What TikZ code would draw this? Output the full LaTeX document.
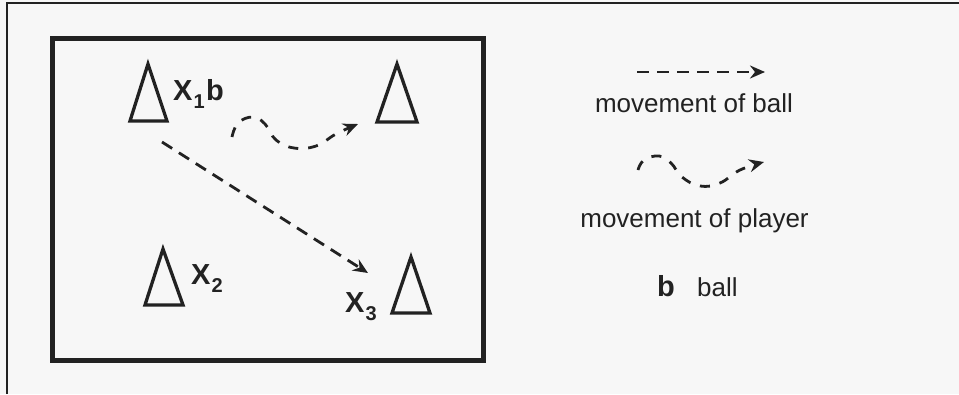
\documentclass[tikz,border=0pt]{standalone}
\usepackage{fontspec}
\setmainfont{Liberation Sans}
\usetikzlibrary{arrows.meta}
\definecolor{ink}{HTML}{222222}
\definecolor{paper}{HTML}{F7F7F7}
\newcommand{\lblsub}[1]{\kern1pt\raisebox{-0.28em}{\fontsize{20}{20}\selectfont #1}}
\begin{document}
\begin{tikzpicture}[x=1pt,y=-1pt,
  cone/.style={draw=ink,line width=3.3pt,line join=miter},
  frameline/.style={draw=ink,line width=2.6pt},
  field/.style={draw=ink,line width=5pt},
  ballpass/.style={draw=ink,line width=2.8pt,dash pattern=on 12pt off 8pt,
     -{Stealth[length=15pt,width=13pt,inset=5pt]}},
  playermove/.style={draw=ink,line width=2.8pt,dash pattern=on 10pt off 10pt,
     -{Stealth[length=15pt,width=13pt,inset=5pt]}},
  lbl/.style={inner sep=0pt,anchor=base west,text=ink,font=\fontsize{29}{33}\selectfont\bfseries},
  legendtxt/.style={inner sep=0pt,anchor=base,text=ink,font=\fontsize{26}{30}\selectfont}
]
\useasboundingbox[fill=paper] (0,0) rectangle (959,394);
% outer frame (top and left edges)
\draw[frameline] (7,394) -- (7,3) -- (959,3);
% field
\draw[field] (52,38) rectangle (483,360);
% cones
\draw[cone] (148,64) -- (130,121) -- (167,121) -- cycle;
\draw[cone] (397,64) -- (377,122) -- (417,122) -- cycle;
\draw[cone] (163,249) -- (145,305) -- (183,305) -- cycle;
\draw[cone] (411,257) -- (392,313) -- (430,313) -- cycle;
% labels
\node[lbl] (x1) at (173,100) {X\lblsub{1}\kern1.5pt b};
\node[lbl] (x2) at (191,284) {X\lblsub{2}};
\node[lbl] (x3) at (345,312) {X\lblsub{3}};
% ball pass
\coordinate (passA) at (162,142);
\coordinate (passB) at (368,273);
\draw[ballpass] (passA) -- (passB);
% player movement
\draw[playermove] plot[smooth,tension=0.7] coordinates
  {(232,137) (238,123) (253,117) (265,124) (276,140) (294,148) (316,146) (336,134) (358,124)};
% legend
\coordinate (lbA) at (637,72);
\coordinate (lbB) at (765,72);
\draw[ballpass] (lbA) -- (lbB);
\node[legendtxt] (lball) at (694,112) {movement of ball};
\draw[playermove] plot[smooth,tension=0.7] coordinates
  {(638,170) (644,160) (659,156) (671,163) (682,177) (700,186) (720,183) (740,170) (764,162)};
\node[legendtxt] (lplayer) at (694.5,227) {movement of player};
\node[inner sep=0pt,anchor=base west,text=ink,font=\fontsize{29}{32}\selectfont\bfseries] (bkey) at (657,296) {b};
\node[inner sep=0pt,anchor=base west,text=ink,font=\fontsize{26}{30}\selectfont] (bdesc) at (697,296) {ball};
\end{tikzpicture}
\end{document}
